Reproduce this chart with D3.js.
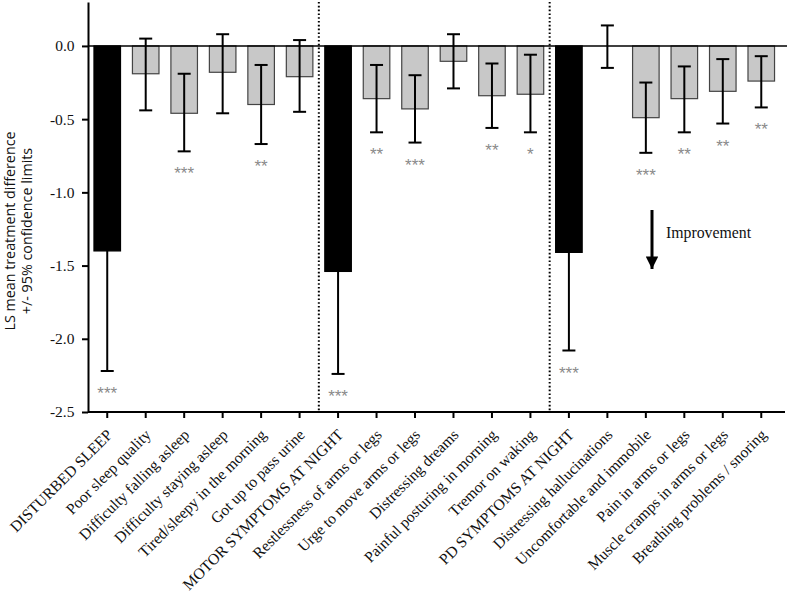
<!DOCTYPE html>
<html><head><meta charset="utf-8">
<script src="https://cdn.jsdelivr.net/npm/d3@7/dist/d3.min.js"></script>
<style>body{margin:0;background:#fff}</style>
</head><body><svg id="c" width="787" height="599"></svg>
<script>
const categories = ["DISTURBED SLEEP","Poor sleep quality","Difficulty falling asleep","Difficulty staying asleep","Tired/sleepy in the morning","Got up to pass urine","MOTOR SYMPTOMS AT NIGHT","Restlessness of arms or legs","Urge to move arms or legs","Distressing dreams","Painful posturing in morning","Tremor on waking","PD SYMPTOMS AT NIGHT","Distressing hallucinations","Uncomfortable and immobile","Pain in arms or legs","Muscle cramps in arms or legs","Breathing problems / snoring"];
const isHeader = [true,false,false,false,false,false,true,false,false,false,false,false,true,false,false,false,false,false];
const means = [-1.40,-0.19,-0.46,-0.18,-0.40,-0.21,-1.54,-0.36,-0.43,-0.105,-0.34,-0.33,-1.41,0.0,-0.49,-0.36,-0.31,-0.24];
const lower = [-2.22,-0.44,-0.72,-0.46,-0.67,-0.45,-2.24,-0.59,-0.66,-0.29,-0.56,-0.59,-2.08,-0.15,-0.73,-0.59,-0.53,-0.42];
const upper = [-0.58,0.05,-0.19,0.08,-0.13,0.04,-0.84,-0.13,-0.20,0.08,-0.12,-0.06,-0.74,0.14,-0.25,-0.14,-0.09,-0.07];
const stars = ["***","","***","","**","","***","**","***","","**","*","***","","***","**","**","**"];
const yTicks = [0,-0.5,-1.0,-1.5,-2.0,-2.5];

const svg = d3.select("#c");
const x0 = 88, x1 = 780.5, yTop = 2, yBot = 412;
const x = d3.scaleBand().domain(categories).range([x0, x1]).paddingInner(0.31).paddingOuter(0.155);
const y = d3.scaleLinear().domain([-2.5, 0.3]).range([yBot, yTop]);
const serif = "'Liberation Serif','Times New Roman',serif";

// bars
svg.append("g").selectAll("rect").data(categories).join("rect")
  .attr("x", d => x(d)).attr("width", x.bandwidth())
  .attr("y", (d,i) => y(Math.max(0, means[i])))
  .attr("height", (d,i) => Math.abs(y(means[i]) - y(0)))
  .attr("fill", (d,i) => isHeader[i] ? "#000" : "#c8c8c8")
  .attr("stroke", (d,i) => isHeader[i] ? "#000" : "#444")
  .attr("stroke-width", 1.2);

// error bars
const eb = svg.append("g").attr("stroke", "#000").attr("stroke-width", 2).attr("fill", "none");
categories.forEach((c,i) => {
  const cx = x(c) + x.bandwidth()/2, cap = 6.5;
  eb.append("line").attr("x1", cx).attr("x2", cx).attr("y1", y(upper[i])).attr("y2", y(lower[i]));
  eb.append("line").attr("x1", cx-cap).attr("x2", cx+cap).attr("y1", y(lower[i])).attr("y2", y(lower[i]));
  if (!isHeader[i]) eb.append("line").attr("x1", cx-cap).attr("x2", cx+cap).attr("y1", y(upper[i])).attr("y2", y(upper[i]));
});

// stars
svg.append("g").selectAll("text").data(categories).join("text")
  .attr("x", d => x(d) + x.bandwidth()/2)
  .attr("y", (d,i) => y(lower[i]) + 28)
  .attr("text-anchor", "middle")
  .attr("font-family", "'Liberation Sans',Arial,sans-serif").attr("font-size", 17)
  .attr("fill", "#8a8a8a")
  .text((d,i) => stars[i]);

// zero line
svg.append("line").attr("x1", x0).attr("x2", 787).attr("y1", y(0)).attr("y2", y(0))
  .attr("stroke", "#000").attr("stroke-width", 1.6);

// dotted separators
[6, 12].forEach(i => {
  const sx = x(categories[i]) - x.step()*x.paddingInner()/2;
  svg.append("line").attr("x1", sx).attr("x2", sx).attr("y1", yTop).attr("y2", yBot)
    .attr("stroke", "#000").attr("stroke-width", 2).attr("stroke-dasharray", "1.6,2.2");
});

// y axis
const yAxis = svg.append("g").attr("transform", `translate(${x0},0)`)
  .call(d3.axisLeft(y).tickValues(yTicks).tickFormat(d => d.toFixed(1)).tickSize(6).tickSizeOuter(0));
yAxis.select(".domain").attr("stroke-width", 2);
yAxis.selectAll(".tick line").attr("stroke-width", 2);
yAxis.selectAll("text").attr("font-family", serif).attr("font-size", 15.5).attr("fill", "#111").attr("dx", -4.5);

// x axis
const xAxis = svg.append("g").attr("transform", `translate(0,${yBot})`)
  .call(d3.axisBottom(x).tickSize(6).tickSizeOuter(0));
xAxis.select(".domain").attr("d", `M${x0},0H785`).attr("stroke-width", 2);
xAxis.selectAll(".tick line").attr("stroke-width", 2);
xAxis.selectAll("text").attr("font-family", serif).attr("font-size", 15.6).attr("fill", "#111")
  .attr("text-anchor", "end").attr("transform", "rotate(-45)").attr("dx", "-0.8em").attr("dy", "0.78em");

// y label
const sans = "'Open Sans','Noto Sans',sans-serif";
svg.append("text").attr("transform", "translate(15,231) rotate(-90)").attr("text-anchor", "middle")
  .attr("font-family", sans).attr("font-size", 14.3).attr("fill", "#111")
  .text("LS mean treatment difference");
svg.append("text").attr("transform", "translate(32,231) rotate(-90)").attr("text-anchor", "middle")
  .attr("font-family", sans).attr("font-size", 14.3).attr("fill", "#111")
  .text("+/- 95% confidence limits");

// improvement arrow
svg.append("defs").append("marker").attr("id", "ah").attr("viewBox", "0 0 10 10")
  .attr("refX", 10).attr("refY", 5).attr("markerWidth", 4.2).attr("markerHeight", 4.2)
  .attr("markerUnits", "strokeWidth").attr("orient", "auto")
  .append("path").attr("d", "M0,0L10,5L0,10Z").attr("fill", "#000");
svg.append("line").attr("x1", 652).attr("x2", 652).attr("y1", 210).attr("y2", 269)
  .attr("stroke", "#000").attr("stroke-width", 3).attr("marker-end", "url(#ah)");
svg.append("text").attr("x", 666).attr("y", 238).attr("font-family", serif).attr("font-size", 15.8)
  .attr("fill", "#111").text("Improvement");
</script></body></html>
